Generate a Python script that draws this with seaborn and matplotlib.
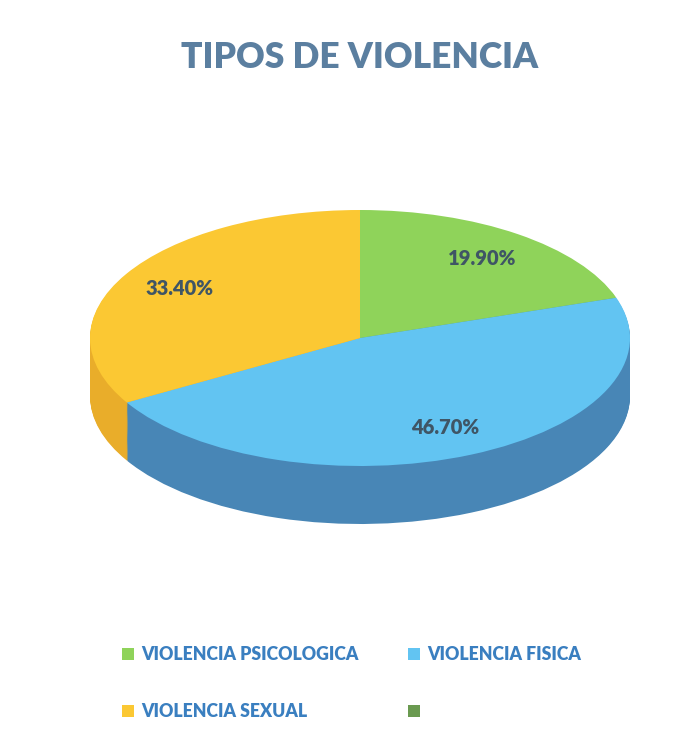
import matplotlib
matplotlib.use("Agg")
import matplotlib.pyplot as plt
import seaborn as sns
from matplotlib.patches import Patch

sns.set_theme(style="white")
plt.rcParams['font.family'] = ['Lato', 'DejaVu Sans']

# ---- data ----
title = "TIPOS DE VIOLENCIA"
categories = ["VIOLENCIA PSICOLOGICA", "VIOLENCIA FISICA", "VIOLENCIA SEXUAL", ""]
values = [19.9, 46.7, 33.4, 0.0]
top_colors = ["#8fd35a", "#62c4f2", "#fbc833", "#6a9a50"]
side_colors = ["#6fa83e", "#4886b6", "#e9ad2a", "#55803e"]

W, H = 696, 749
fig = plt.figure(figsize=(W / 100, H / 100), dpi=100)
fig.patch.set_facecolor("white")

# pie axes: top ellipse x 90..630, y 210..466 px, depth 58 px
depth_px = 58
x0, x1 = 90, 630
y_top, y_bot = 210, 466 + depth_px
ax = fig.add_axes([x0 / W, 1 - y_bot / H, (x1 - x0) / W, (y_bot - y_top) / H])
unit = (466 - 210) / 2.0
depth = depth_px / unit

vals = [v for v in values if v > 0]
tc = [c for c, v in zip(top_colors, values) if v > 0]
sc = [c for c, v in zip(side_colors, values) if v > 0]

n_layers = 60
for i in range(n_layers, 0, -1):
    off = -depth * i / n_layers
    ax.pie(vals, colors=sc, startangle=90, counterclock=False,
           center=(0, off), radius=1.0,
           wedgeprops=dict(linewidth=0, antialiased=True))

wedges, texts, autotexts = ax.pie(
    vals, colors=tc, startangle=90, counterclock=False,
    center=(0, 0), radius=1.0, autopct="%.2f%%", pctdistance=0.77,
    wedgeprops=dict(linewidth=0),
    textprops=dict(color="#3f5565", fontsize=14.5, fontweight="heavy"))

ax.set_aspect("auto")
ax.set_xlim(-1, 1)
ax.set_ylim(-1 - depth, 1)
ax.axis("off")

fig.text(360 / W, 1 - 58 / H, title, ha="center", va="center",
         fontsize=25.5, fontweight="heavy", color="#5b7fa0")

# legend in row-major order (2 columns)
handles = [Patch(facecolor=c, edgecolor="none") for c in top_colors]
order = [0, 2, 1, 3]
leg = fig.legend([handles[i] for i in order], [categories[i] for i in order],
                 ncol=2, loc="upper left",
                 bbox_to_anchor=(106 / W, 1 - 630 / H), frameon=False,
                 handlelength=0.7, handleheight=0.7, handletextpad=0.4,
                 columnspacing=2.8, labelspacing=2.3,
                 prop=dict(size=12.7, weight="heavy"))
for t in leg.get_texts():
    t.set_color("#3a7fc0")

fig.savefig("out.png", dpi=100, facecolor="white")
